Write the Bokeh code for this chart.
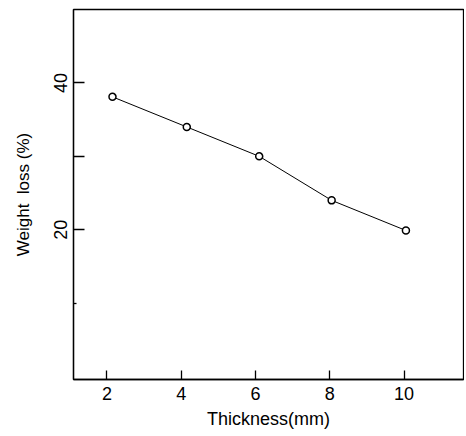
from bokeh.plotting import figure
from bokeh.models import FixedTicker, Range1d
from bokeh.embed import file_html
from bokeh.resources import INLINE

# Data
thickness = [2.15, 4.15, 6.1, 8.05, 10.05]
weight_loss = [38.1, 34.0, 30.0, 24.0, 19.9]
x_ticks = [2, 4, 6, 8, 10]
y_ticks = [20, 30, 40]
y_minor_ticks = [10]
y_tick_labels = {20: "20", 30: "", 40: "40"}

FONT = "Liberation Sans"

p = figure(width=464, height=434,
           x_range=Range1d(1.1, 11.6), y_range=Range1d(-0.4, 50),
           output_backend="svg", toolbar_location=None,
           min_border_left=73, min_border_right=1,
           min_border_top=9, min_border_bottom=55)

p.grid.visible = False
p.outline_line_color = "black"
p.outline_line_width = 1.3
p.background_fill_color = "white"
p.border_fill_color = "white"

p.line(thickness, weight_loss, line_color="black", line_width=1)
p.scatter(thickness, weight_loss, marker="circle", size=7,
          fill_color="white", line_color="black", line_width=1.5)

xa = p.xaxis[0]
xa.ticker = FixedTicker(ticks=x_ticks)
xa.axis_label = "Thickness(mm)"
xa.axis_label_text_font = FONT
xa.axis_label_text_font_size = "18px"
xa.axis_label_text_font_style = "normal"
xa.axis_label_text_color = "black"
xa.axis_label_standoff = 6
xa.major_label_text_font = FONT
xa.major_label_text_font_size = "18px"
xa.major_label_text_color = "black"
xa.major_label_standoff = 7
xa.major_tick_in = 9
xa.major_tick_out = 0
xa.minor_tick_in = 0
xa.minor_tick_out = 0
xa.axis_line_color = "black"
xa.axis_line_width = 1.3
xa.major_tick_line_color = "black"
xa.major_tick_line_width = 1.3

ya = p.yaxis[0]
ya.ticker = FixedTicker(ticks=y_ticks, minor_ticks=y_minor_ticks)
ya.major_label_overrides = y_tick_labels
ya.major_label_orientation = "parallel"
ya.axis_label = "Weight\u00a0 loss (%)"
ya.axis_label_text_font = FONT
ya.axis_label_text_font_size = "17px"
ya.axis_label_text_font_style = "normal"
ya.axis_label_text_color = "black"
ya.axis_label_standoff = 19
ya.major_label_text_font = FONT
ya.major_label_text_font_size = "18px"
ya.major_label_text_color = "black"
ya.major_label_standoff = 6
ya.major_tick_in = 11
ya.major_tick_out = 0
ya.minor_tick_in = 3
ya.minor_tick_out = 0
ya.axis_line_color = "black"
ya.axis_line_width = 1.3
ya.major_tick_line_color = "black"
ya.major_tick_line_width = 1.3
ya.minor_tick_line_width = 1.3
ya.minor_tick_line_color = "black"

open("out.html", "w").write(file_html(p, INLINE))
